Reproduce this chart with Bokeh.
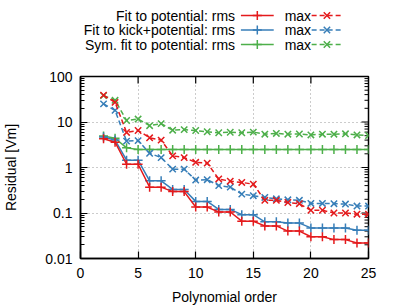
from bokeh.plotting import figure
from bokeh.layouts import column
from bokeh.models import Range1d, FixedTicker, CustomJSTickFormatter
from bokeh.core.properties import value
from bokeh.embed import file_html
from bokeh.resources import INLINE

orders = list(range(2, 26))

fit_pot_rms = [4.3, 3.6, 1.18, 1.18, 0.37, 0.37, 0.295, 0.295, 0.135, 0.135, 0.105, 0.105,
               0.066, 0.066, 0.052, 0.052, 0.040, 0.040, 0.030, 0.030, 0.026, 0.026, 0.022, 0.022]
fit_pot_max = [39, 27, 5.9, 6.5, 4.5, 4.0, 1.8, 1.65, 1.3, 1.25, 0.56, 0.5,
               0.47, 0.43, 0.19, 0.19, 0.17, 0.16, 0.115, 0.115, 0.1, 0.1, 0.094, 0.094]
kick_pot_rms = [4.7, 4.0, 1.45, 1.45, 0.51, 0.51, 0.33, 0.33, 0.18, 0.18, 0.12, 0.12,
                0.092, 0.092, 0.064, 0.064, 0.060, 0.060, 0.047, 0.047, 0.047, 0.047, 0.042, 0.042]
kick_pot_max = [25, 18, 3.8, 3.9, 2.05, 1.65, 0.92, 0.92, 0.53, 0.54, 0.40, 0.37,
                0.26, 0.24, 0.22, 0.205, 0.195, 0.19, 0.162, 0.162, 0.16, 0.157, 0.142, 0.142]
sym_pot_rms = [4.9, 4.4, 2.7, 2.5, 2.5, 2.5, 2.5, 2.5, 2.5, 2.5, 2.5, 2.5,
               2.5, 2.5, 2.5, 2.5, 2.5, 2.5, 2.5, 2.5, 2.5, 2.5, 2.5, 2.5]
sym_pot_max = [38, 30, 10.8, 11.6, 8.3, 9.2, 6.6, 6.8, 6.5, 6.1, 5.8, 5.95,
               5.8, 6.0, 5.4, 5.6, 5.4, 5.45, 5.2, 5.4, 5.4, 5.5, 5.2, 5.05]

series_names = ["Fit to potential: rms", "Fit to kick+potential: rms", "Sym. fit to potential: rms"]
max_name = "max"
colors = ["#e41a1c", "#377eb8", "#4daf4a"]

x_ticks = [0, 5, 10, 15, 20, 25]
y_ticks = [0.01, 0.1, 1, 10, 100]
x_label = "Polynomial order"
y_label = "Residual [Vm]"

FONT = "Liberation Sans"
FS = "14px"

W = 395
TOTAL_H = 307
LEG_H = 64
FRAME_W = 288
FRAME_H = 184
X0, X1 = 0, 25
Y0, Y1 = 0.01, 100

# ---------------- legend figure ----------------
leg = figure(width=W, height=LEG_H, x_range=Range1d(0, W), y_range=Range1d(LEG_H, 0),
             output_backend="svg", toolbar_location=None, min_border=0)
leg.axis.visible = False
leg.grid.visible = False
leg.outline_line_color = None

rows_y = [15, 29.5, 44]
leg.text(x=[212] * 3, y=rows_y, text=series_names, text_align="right", text_baseline="middle",
         text_font=value(FONT), text_font_size=FS, text_color="black")
leg.text(x=[280] * 3, y=rows_y, text=[max_name] * 3, text_align="left", text_baseline="middle",
         text_font=value(FONT), text_font_size=FS, text_color="black")
for yy, c in zip(rows_y, colors):
    leg.line([220, 265], [yy, yy], line_color=c, line_width=1.5)
    leg.scatter([242.5], [yy], marker="cross", size=9, line_color=c, line_width=1.5)
    leg.line([317, 359], [yy, yy], line_color=c, line_width=1.5, line_dash="5 3")
    leg.scatter([338], [yy], marker="x", size=9, line_color=c, line_width=1.5)

# ---------------- main figure ----------------
H = TOTAL_H - LEG_H
p = figure(width=W, height=H, y_axis_type="log",
           x_range=Range1d(X0, X1), y_range=Range1d(Y0, Y1),
           output_backend="svg", toolbar_location=None,
           min_border_left=80, min_border_right=W - 80 - FRAME_W, min_border_top=12,
           min_border_bottom=H - 12 - FRAME_H)

minor = []
for d in [0.01, 0.1, 1, 10]:
    for k in range(2, 10):
        minor.append(round(d * k, 6))
p.yaxis.ticker = FixedTicker(ticks=y_ticks, minor_ticks=minor)
p.yaxis.formatter = CustomJSTickFormatter(code="return (Math.round(tick*1000)/1000).toString();")
p.xaxis.ticker = FixedTicker(ticks=x_ticks, minor_ticks=[])

MAJ, MIN = 7, 4
for ax in [p.xaxis[0], p.yaxis[0]]:
    ax.major_tick_in = MAJ
    ax.major_tick_out = 0
    ax.minor_tick_in = MIN
    ax.minor_tick_out = 0
    ax.axis_line_width = 1.5
    ax.major_tick_line_width = 1.2
    ax.minor_tick_line_width = 1
    ax.major_label_text_font = FONT
    ax.major_label_text_font_size = FS
    ax.major_label_text_color = "black"
    ax.axis_label_text_font = FONT
    ax.axis_label_text_font_size = FS
    ax.axis_label_text_font_style = "normal"
    ax.axis_label_text_color = "black"

p.xaxis.axis_label = x_label
p.yaxis.axis_label = y_label
p.xaxis.major_label_standoff = 9
p.xaxis.axis_label_standoff = 8
p.yaxis.major_label_standoff = 8
p.yaxis.axis_label_standoff = 23

# mirrored ticks on top and right edges (drawn from the tick lists)
ydec = (Y1 / Y0) ** (1.0 / FRAME_H)  # factor per pixel in y
xpx = (X1 - X0) / FRAME_W             # data units per pixel in x
top_x = [t for t in x_ticks if X0 < t < X1]
p.segment(x0=top_x, y0=[Y1] * len(top_x), x1=top_x, y1=[Y1 / ydec ** MAJ] * len(top_x),
          line_color="black", line_width=1.2)
ry = [t for t in y_ticks if Y0 < t < Y1]
p.segment(x0=[X1] * len(ry), y0=ry, x1=[X1 - xpx * MAJ] * len(ry), y1=ry,
          line_color="black", line_width=1.2)
p.segment(x0=[X1] * len(minor), y0=minor, x1=[X1 - xpx * MIN] * len(minor), y1=minor,
          line_color="black", line_width=1)

p.outline_line_color = "black"
p.outline_line_width = 1.5

for g in [p.xgrid[0], p.ygrid[0]]:
    g.grid_line_color = "#999999"
    g.grid_line_dash = "1 3"
    g.grid_line_width = 1
p.ygrid.minor_grid_line_color = None

rms_data = [fit_pot_rms, kick_pot_rms, sym_pot_rms]
max_data = [fit_pot_max, kick_pot_max, sym_pot_max]
for i in [2, 1, 0]:
    c = colors[i]
    p.line(orders, rms_data[i], line_color=c, line_width=1.5)
    p.scatter(orders, rms_data[i], marker="cross", size=9, line_color=c, line_width=1.5)
    p.line(orders, max_data[i], line_color=c, line_width=1.5, line_dash="5 3")
    p.scatter(orders, max_data[i], marker="x", size=9, line_color=c, line_width=1.5)

layout = column(leg, p)
open("out.html", "w").write(file_html(layout, INLINE))
